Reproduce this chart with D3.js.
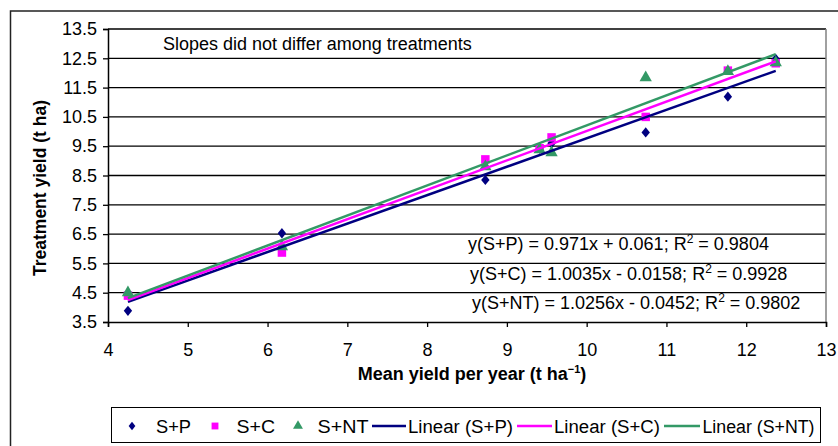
<!DOCTYPE html>
<html>
<head>
<meta charset="utf-8">
<script src="https://cdn.jsdelivr.net/npm/d3@7"></script>
<style>
  html, body { margin: 0; padding: 0; background: #fff; }
  svg { display: block; font-family: Arial, "Liberation Sans", sans-serif; }
</style>
</head>
<body>
<svg id="chart" width="838" height="446"></svg>
<script>
// Mean yield of the three treatments in each year (x) and each treatment's yield (y), t/ha
const meanYield = [4.25, 6.18, 8.73, 9.41, 9.56, 10.74, 11.77, 12.37];
const yieldSP   = [3.88, 6.53, 8.35, 9.42, 9.60, 9.97, 11.19, 12.48];
const yieldSC   = [4.40, 5.87, 9.05, 9.43, 9.80, 10.50, 12.08, 12.33];
const yieldSNT  = [4.50, 6.07, 8.80, 9.38, 9.28, 11.84, 12.05, 12.35];

// Fitted linear trends (slope, intercept) and their R²
const seriesNames = ["S+P", "S+C", "S+NT"];
const slopes      = [0.971, 1.0035, 1.0256];
const intercepts  = [0.061, -0.0158, -0.0452];
const rSquared    = ["0.9804", "0.9928", "0.9802"];
const slopeText   = ["0.971", "1.0035", "1.0256"];
const interText   = ["+ 0.061", "- 0.0158", "- 0.0452"];

const xTicks = [4, 5, 6, 7, 8, 9, 10, 11, 12, 13];
const yTicks = [3.5, 4.5, 5.5, 6.5, 7.5, 8.5, 9.5, 10.5, 11.5, 12.5, 13.5];

const colors  = ["#000080", "#FF00FF", "#339966"];
const symbols = [d3.symbolDiamond2, d3.symbolSquare, d3.symbolTriangle];
const symSize = [62, 72, 66];
const symScale = ["scale(0.85,1.05)", "", ""];

const svg = d3.select("#chart");

// chart-area border
svg.append("rect").attr("x", 10.5).attr("y", 11).attr("width", 900).attr("height", 500)
  .attr("fill", "none").attr("stroke", "#222").attr("stroke-width", 1.5);

const x = d3.scaleLinear().domain([4, 13]).range([108, 826]);
const y = d3.scaleLinear().domain([3.5, 13.5]).range([322, 29]);

// horizontal gridlines
svg.append("g").selectAll("line").data(yTicks.slice(1)).join("line")
  .attr("x1", x(4)).attr("x2", x(13))
  .attr("y1", d => y(d)).attr("y2", d => y(d))
  .attr("stroke", "#000").attr("stroke-width", 1.3);

// plot-area right edge
svg.append("line").attr("x1", x(13)).attr("x2", x(13)).attr("y1", y(13.5)).attr("y2", y(3.5))
  .attr("stroke", "#808080").attr("stroke-width", 1.5);

// axes
const xAxis = d3.axisBottom(x).tickValues(xTicks).tickFormat(d3.format("d")).tickSize(5).tickPadding(16);
const yAxis = d3.axisLeft(y).tickValues(yTicks).tickFormat(d3.format(".1f")).tickSize(5).tickPadding(6);

const gx = svg.append("g").attr("transform", `translate(0,${y(3.5)})`).call(xAxis);
const gy = svg.append("g").attr("transform", `translate(${x(4)},0)`).call(yAxis);
[gx, gy].forEach(g => {
  g.select(".domain").attr("stroke", "#000").attr("stroke-width", 1.5);
  g.selectAll(".tick line").attr("stroke", "#000").attr("stroke-width", 1.3);
  g.selectAll(".tick text").attr("fill", "#000").attr("font-size", 18)
    .attr("font-family", "Arial, 'Liberation Sans', sans-serif");
});

// axis titles
svg.append("text").attr("x", 472).attr("y", 380).attr("text-anchor", "middle")
  .attr("font-size", 18).attr("font-weight", "bold")
  .call(t => {
    t.append("tspan").text("Mean yield per year (t ha");
    t.append("tspan").attr("font-size", 11).attr("dy", -7).text("\u22121");
    t.append("tspan").attr("dy", 7).text(")");
  });

svg.append("text").attr("transform", "translate(46,188) rotate(-90)")
  .attr("text-anchor", "middle").attr("font-size", 17.5).attr("font-weight", "bold")
  .text("Treatment yield (t ha)");

// note inside the plot
svg.append("text").attr("x", 163).attr("y", 50).attr("font-size", 18)
  .text("Slopes did not differ among treatments");

// markers
const seriesValues = [yieldSP, yieldSC, yieldSNT];
seriesValues.forEach((vals, i) => {
  svg.append("g").selectAll("path").data(vals).join("path")
    .attr("transform", (d, j) => `translate(${x(meanYield[j])},${y(d)}) ${symScale[i]}`)
    .attr("d", d3.symbol().type(symbols[i]).size(symSize[i]))
    .attr("fill", colors[i]);
});

// trendlines over the observed range of mean yield
const xMin = d3.min(meanYield), xMax = d3.max(meanYield);
const line = d3.line().x(d => x(d[0])).y(d => y(d[1]));
slopes.forEach((s, i) => {
  const pts = [xMin, xMax].map(v => [v, s * v + intercepts[i]]);
  svg.append("path").attr("d", line(pts)).attr("fill", "none")
    .attr("stroke", colors[i]).attr("stroke-width", 2.5);
});

// regression equations
const eqX = [468, 470, 472];
const eqY = [250, 279.5, 309];
seriesNames.forEach((n, i) => {
  const t = svg.append("text").attr("x", eqX[i]).attr("y", eqY[i]).attr("font-size", 18);
  t.append("tspan").text(`y(${n}) = ${slopeText[i]}x ${interText[i]}; R`);
  t.append("tspan").attr("font-size", 12).attr("dy", -7).text("2");
  t.append("tspan").attr("dy", 7).text(` = ${rSquared[i]}`);
});

// legend
const lg = svg.append("g");
lg.append("rect").attr("x", 111.5).attr("y", 407.5).attr("width", 709).attr("height", 35)
  .attr("fill", "#fff").attr("stroke", "#000").attr("stroke-width", 1);
const legY = 426;
const markerX = [132, 215, 298];
const markerTextX = [156, 236.5, 317.5];
const markerTextW = [35, 38.5, 51];
seriesNames.forEach((n, i) => {
  lg.append("path").attr("transform", `translate(${markerX[i]},${legY}) ${symScale[i]}`)
    .attr("d", d3.symbol().type(symbols[i]).size(symSize[i] * 0.65)).attr("fill", colors[i]);
  lg.append("text").attr("x", markerTextX[i]).attr("y", legY + 6.5).attr("font-size", 18)
    .attr("textLength", markerTextW[i]).attr("lengthAdjust", "spacingAndGlyphs").text(n);
});
const lineX = [[372, 406], [517, 552], [664, 700]];
const lineTextX = [408, 554, 702.5];
const lineTextW = [105, 106, 112];
seriesNames.forEach((n, i) => {
  lg.append("line").attr("x1", lineX[i][0]).attr("x2", lineX[i][1])
    .attr("y1", legY).attr("y2", legY).attr("stroke", colors[i]).attr("stroke-width", 2.5);
  lg.append("text").attr("x", lineTextX[i]).attr("y", legY + 6.5).attr("font-size", 18)
    .attr("textLength", lineTextW[i]).attr("lengthAdjust", "spacingAndGlyphs")
    .text(`Linear (${n})`);
});
</script>
</body>
</html>
